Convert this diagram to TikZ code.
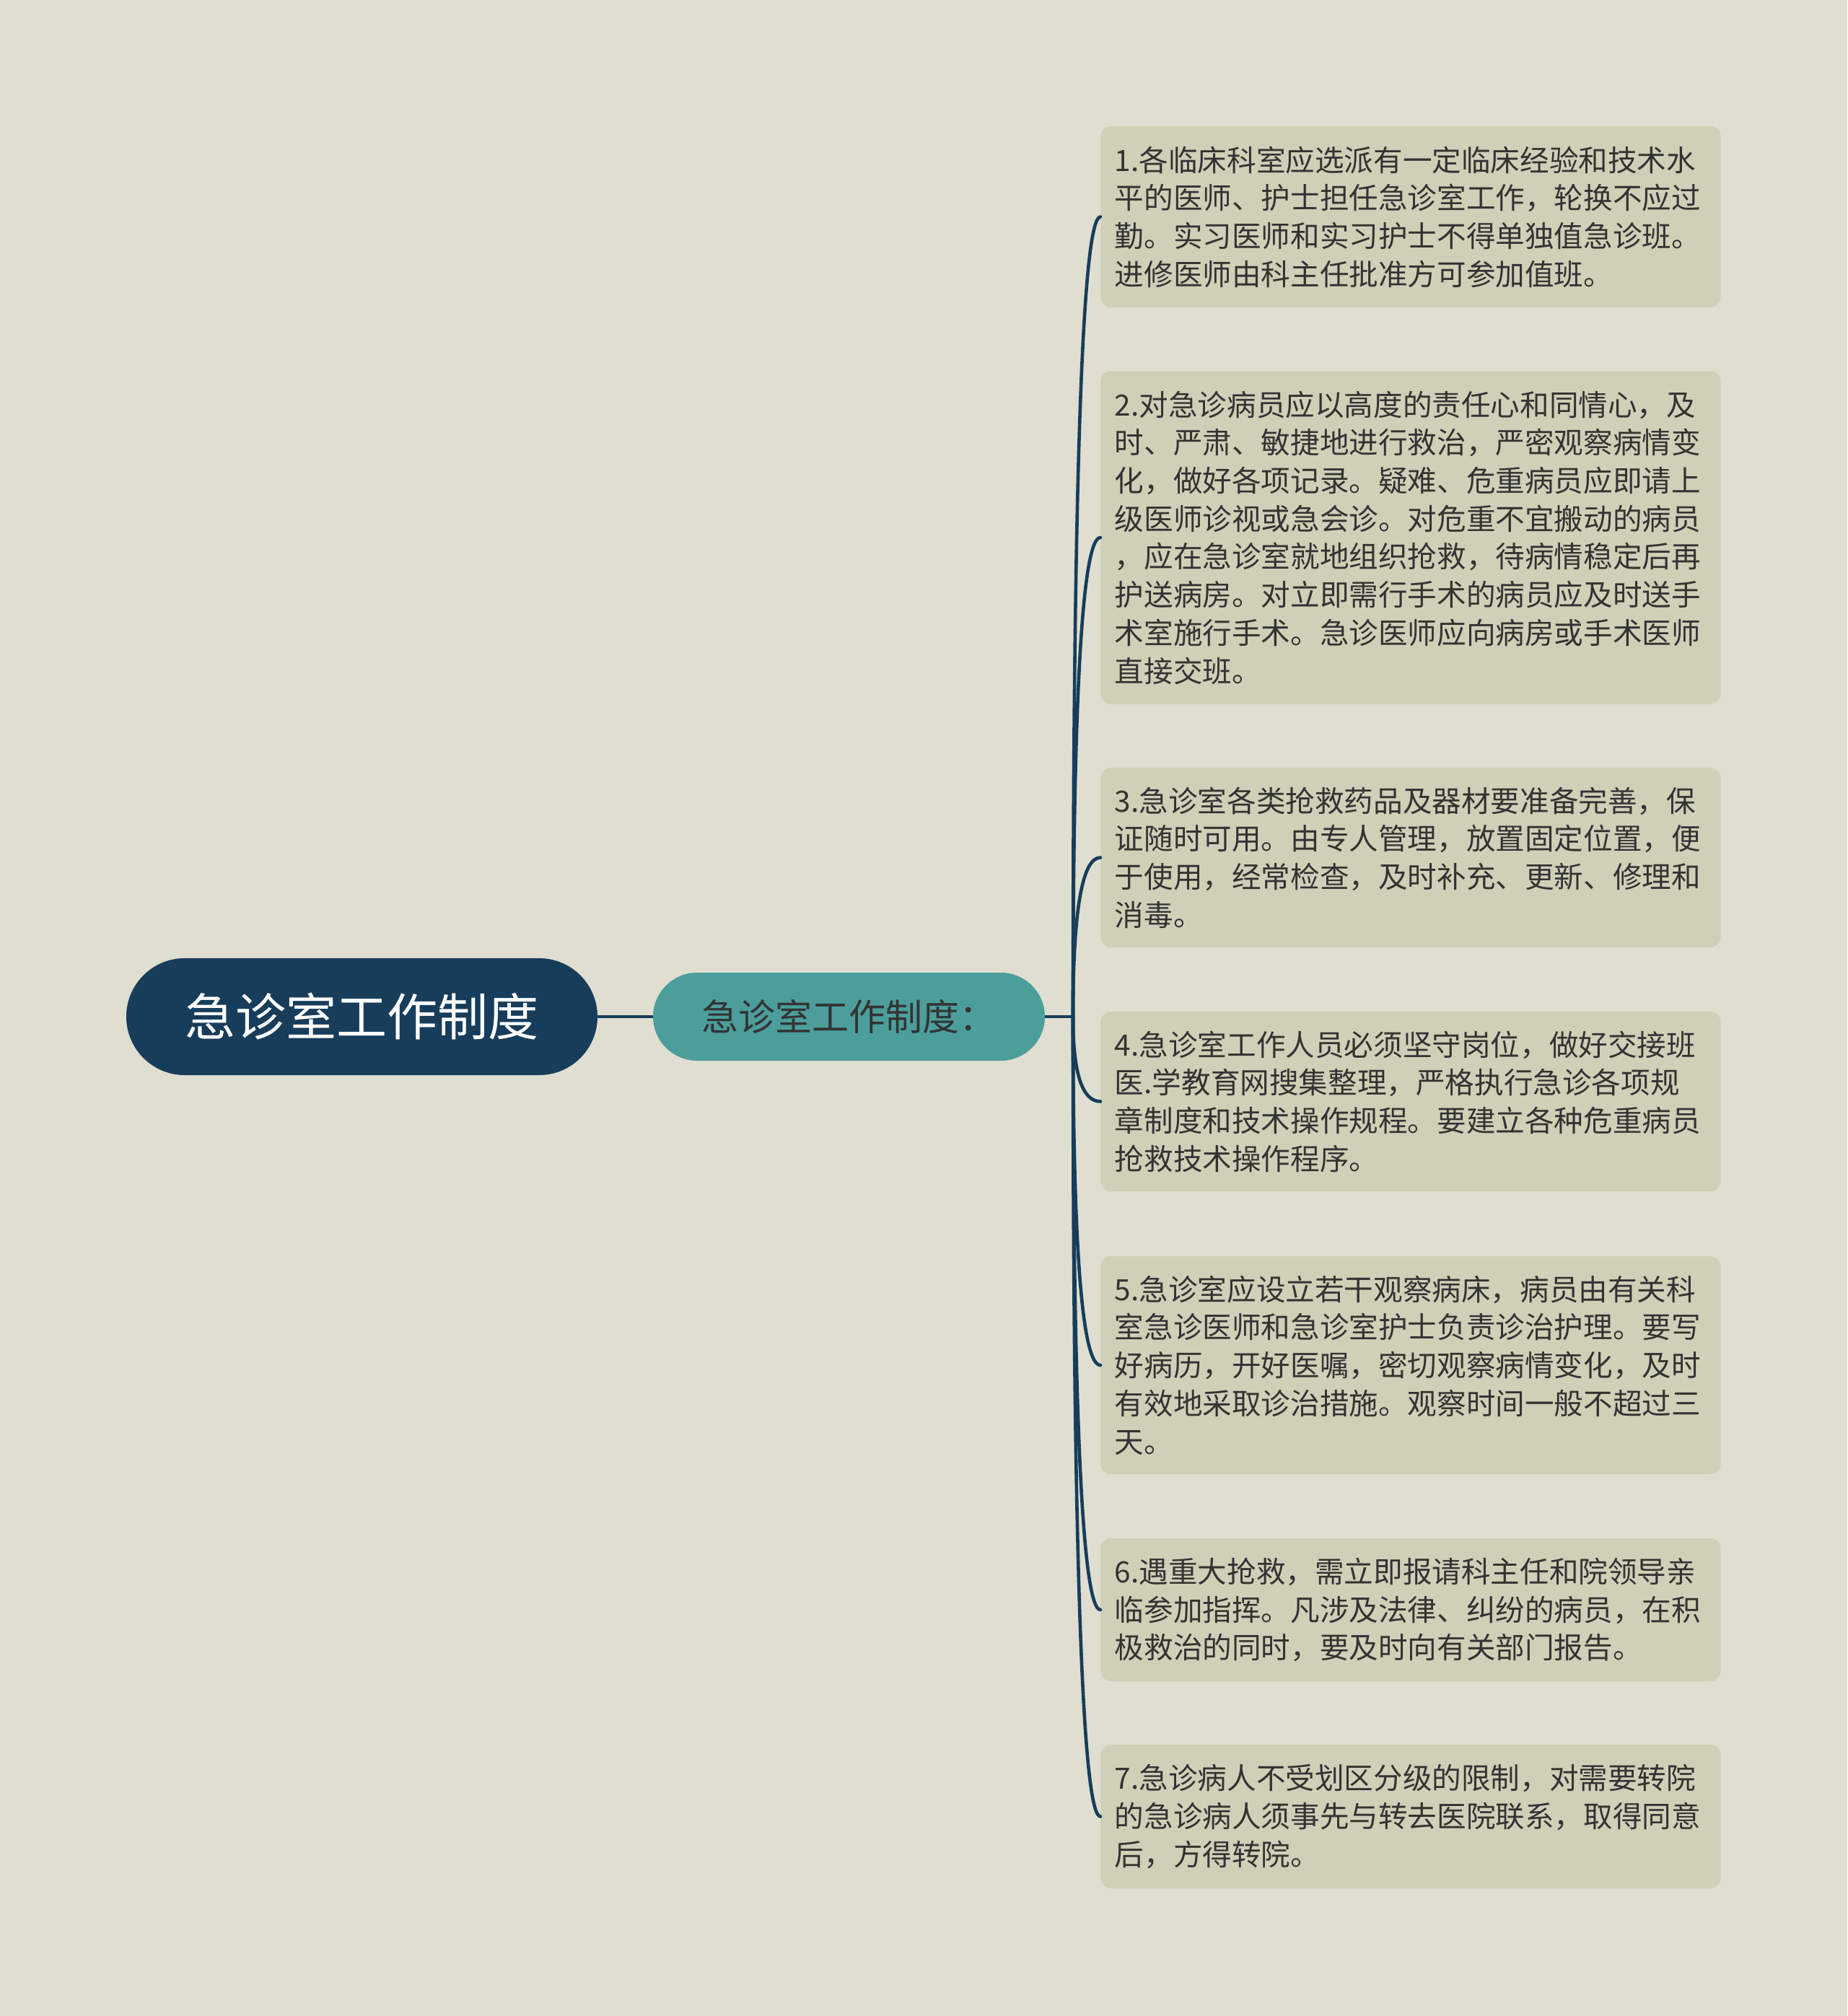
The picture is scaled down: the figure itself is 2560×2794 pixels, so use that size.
\documentclass[tikz,border=0pt]{standalone}
\usepackage{fontspec}
\newfontfamily\cjk{Noto Sans CJK SC}
\usetikzlibrary{calc}
\definecolor{bg}{HTML}{DFDED0}
\definecolor{leaffill}{HTML}{D0CFB8}
\definecolor{rootfill}{HTML}{173D5B}
\definecolor{midfill}{HTML}{4C9E9B}
\definecolor{linecol}{HTML}{173D5B}
\definecolor{txt}{HTML}{333333}
\tikzset{
  rootbox/.style={fill=rootfill, rounded corners=40.5pt, minimum width=326.5pt, minimum height=81pt, inner sep=0pt, text=white, font=\cjk\fontsize{35pt}{42pt}\selectfont},
  midbox/.style={fill=midfill, rounded corners=30.5pt, minimum width=271.5pt, minimum height=61pt, inner sep=0pt, text=txt, font=\cjk\fontsize{25.5pt}{30pt}\selectfont},
  leaf/.style={fill=leaffill, rounded corners=7pt, minimum width=429.5pt, text width=410pt, inner xsep=9.75pt, inner ysep=0pt, align=left, anchor=west, text=txt, font=\cjk\fontsize{20.3pt}{26.35pt}\selectfont},
  conn/.style={draw=linecol, line width=2.3pt},
}
\begin{document}
\begin{tikzpicture}[x=0.5pt,y=-0.5pt]
\fill[bg] (0,0) rectangle (2560,2794);
\useasboundingbox (0,0) rectangle (2560,2794);

\node[rootbox] (root) at (501.5,1409) {急诊室工作制度};
\node[midbox] (mid) at (1176.5,1409) {急诊室工作制度：};
\coordinate (J) at (1487,1409);

\node[leaf, minimum height=125.4pt] (l1) at (1525,300.5) {1.各临床科室应选派有一定临床经验和技术水\\平的医师、护士担任急诊室工作，轮换不应过\\勤。实习医师和实习护士不得单独值急诊班。\\进修医师由科主任批准方可参加值班。};
\node[leaf, minimum height=230.8pt] (l2) at (1525,745) {2.对急诊病员应以高度的责任心和同情心，及\\时、严肃、敏捷地进行救治，严密观察病情变\\化，做好各项记录。疑难、危重病员应即请上\\级医师诊视或急会诊。对危重不宜搬动的病员\\，应在急诊室就地组织抢救，待病情稳定后再\\护送病房。对立即需行手术的病员应及时送手\\术室施行手术。急诊医师应向病房或手术医师\\直接交班。};
\node[leaf, minimum height=124.5pt] (l3) at (1525,1188.5) {3.急诊室各类抢救药品及器材要准备完善，保\\证随时可用。由专人管理，放置固定位置，便\\于使用，经常检查，及时补充、更新、修理和\\消毒。};
\node[leaf, minimum height=124.5pt] (l4) at (1525,1526.5) {4.急诊室工作人员必须坚守岗位，做好交接班\\医.学教育网搜集整理，严格执行急诊各项规\\章制度和技术操作规程。要建立各种危重病员\\抢救技术操作程序。};
\node[leaf, minimum height=151pt] (l5) at (1525,1892) {5.急诊室应设立若干观察病床，病员由有关科\\室急诊医师和急诊室护士负责诊治护理。要写\\好病历，开好医嘱，密切观察病情变化，及时\\有效地采取诊治措施。观察时间一般不超过三\\天。};
\node[leaf, minimum height=99pt] (l6) at (1525,2231) {6.遇重大抢救，需立即报请科主任和院领导亲\\临参加指挥。凡涉及法律、纠纷的病员，在积\\极救治的同时，要及时向有关部门报告。};
\node[leaf, minimum height=99.5pt] (l7) at (1525,2517.5) {7.急诊病人不受划区分级的限制，对需要转院\\的急诊病人须事先与转去医院联系，取得同意\\后，方得转院。};

\draw[conn] (root.east) -- (mid.west);
\draw[conn] (mid.east) -- (J);
\foreach \n in {l1,l2,l3,l4,l5,l6,l7}{
  \draw[conn, line cap=round] (J) .. controls ($(J)!0.667!(J|-\n.west)$) and ($(\n.west)!0.667!(J|-\n.west)$) .. (\n.west);
}
\end{tikzpicture}
\end{document}
